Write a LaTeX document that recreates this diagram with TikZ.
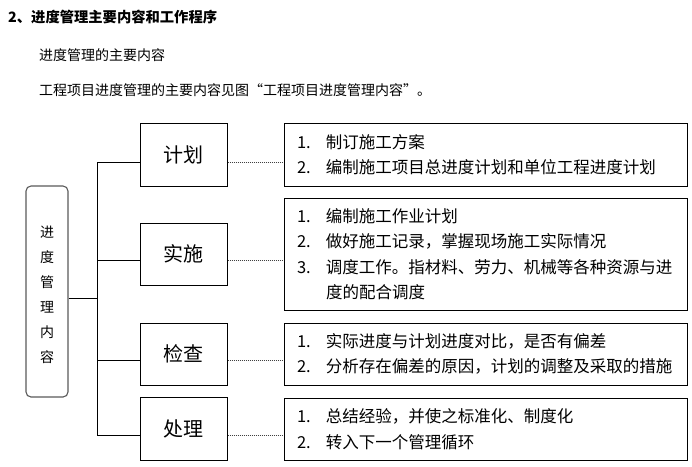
\documentclass[tikz,border=0pt]{standalone}
\usepackage{fontspec}
\setmainfont{Noto Sans CJK SC}
\begin{document}
\begin{tikzpicture}[x=1pt,y=-1pt,
  midbox/.style={draw=black,line width=1pt,minimum width=87pt,inner sep=0pt,font=\fontsize{20}{24}\selectfont},
  listbox/.style={draw=black,line width=1pt,minimum width=403pt,inner xsep=13pt,inner ysep=0pt,text width=377pt,align=left,font=\fontsize{16.5}{25.5}\selectfont},
  mainbox/.style={draw=black!65,line width=1.1pt,rounded corners=5pt,minimum width=42pt,minimum height=211pt,inner sep=0pt},
  maintext/.style={inner sep=0pt,align=center,font=\fontsize{14}{25}\selectfont},
  conn/.style={line width=1pt,black},
  dots/.style={line width=1pt,densely dotted,black!75},
  txt/.style={anchor=west,inner sep=0pt}]
\useasboundingbox (0,0) rectangle (692,466);
\newcommand{\num}[1]{\makebox[29pt][l]{#1}}
% header texts
\node[txt,font=\fontsize{14.3}{16}\selectfont\bfseries] (h1) at (8,17) {2、进度管理主要内容和工作程序};
\node[txt,font=\fontsize{14}{16}\selectfont] (h2) at (39,55) {进度管理的主要内容};
\node[txt,font=\fontsize{14}{16}\selectfont] (h3) at (39,90) {工程项目进度管理的主要内容见图“工程项目进度管理内容”。};
% main box
\node[mainbox] (L) at (47,291.5) {};
\node[maintext] (Lt) at (47,294.5) {进\\度\\管\\理\\内\\容};
% middle boxes
\node[midbox,minimum height=63pt] (m1) at (183.5,154.5) {计划};
\node[midbox,minimum height=62pt] (m2) at (183.5,254) {实施};
\node[midbox,minimum height=62pt] (m3) at (183.5,354) {检查};
\node[midbox,minimum height=63pt] (m4) at (183.5,428.5) {处理};
% list boxes
\node[listbox,minimum height=63pt] (r1) at (485.5,154.5) {\num{1.}制订施工方案\\\num{2.}编制施工项目总进度计划和单位工程进度计划};
\node[listbox,minimum height=112pt] (r2) at (485.5,254) {\num{1.}编制施工作业计划\\\num{2.}做好施工记录，掌握现场施工实际情况\\\num{3.}调度工作。指材料、劳力、机械等各种资源与进\\\num{}度的配合调度};
\node[listbox,minimum height=62pt] (r3) at (485.5,354) {\num{1.}实际进度与计划进度对比，是否有偏差\\\num{2.}分析存在偏差的原因，计划的调整及采取的措施};
\node[listbox,minimum height=62pt] (r4) at (485.5,429) {\num{1.}总结经验，并使之标准化、制度化\\\num{2.}转入下一个管理循环};
% connector coordinates
\coordinate (j) at (97,298);
\coordinate (b1) at (97,162);
\coordinate (b2) at (97,260);
\coordinate (b3) at (97,360);
\coordinate (b4) at (97,435);
\draw[conn] (L.east |- j) -- (j);
\draw[conn] (b1) -- (b4);
\foreach \i in {1,2,3,4}{
  \draw[conn] (b\i) -- (m\i.west |- b\i);
  \draw[dots] (m\i.east |- b\i) -- (r\i.west |- b\i);
}
\end{tikzpicture}
\end{document}
